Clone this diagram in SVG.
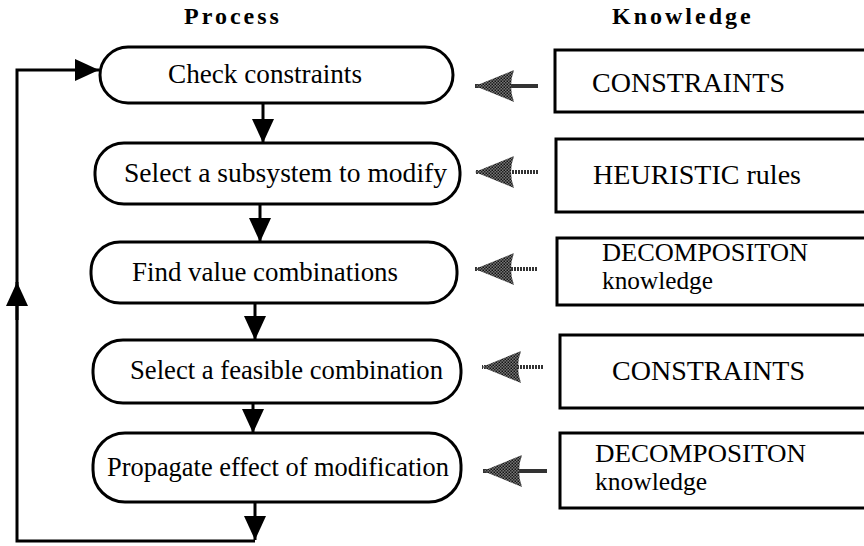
<svg xmlns="http://www.w3.org/2000/svg" width="864" height="546" viewBox="0 0 864 546">
<style>
.t{font-family:"Liberation Serif","Times New Roman",serif;font-size:27px;fill:#000}
.h{font-family:"Liberation Serif","Times New Roman",serif;font-size:24px;font-weight:bold;letter-spacing:3px;fill:#000}
.k{font-family:"Liberation Serif","Times New Roman",serif;font-size:27px;fill:#000}
.k2{font-family:"Liberation Serif","Times New Roman",serif;font-size:25px;fill:#000}
.pb{fill:#fff;stroke:#000;stroke-width:3}
.kb{fill:#fff;stroke:#000;stroke-width:3}
.ln{fill:none;stroke:#000;stroke-width:3}
.gs{fill:none;stroke:#333;stroke-width:4}
</style>
<defs>
<pattern id="stip" width="3" height="3" patternUnits="userSpaceOnUse">
<rect width="3" height="3" fill="#777"/>
<rect width="1.5" height="1.5" fill="#111"/>
<rect x="1.5" y="1.5" width="1.5" height="1.5" fill="#222"/>
</pattern>
<marker id="ah" markerUnits="userSpaceOnUse" markerWidth="24" markerHeight="22" refX="24" refY="11" orient="auto">
<path d="M0,0 L24,11 L0,22 z" fill="#000"/>
</marker>
<marker id="gh" markerUnits="userSpaceOnUse" markerWidth="42" markerHeight="34" refX="42" refY="17" orient="auto">
<path d="M3,1 Q9,17 3,33 L42,17 z" fill="url(#stip)"/>
</marker>
</defs>
<g id="headers">
<text class="h" x="184" y="24">Process</text>
<text class="h" x="612" y="24">Knowledge</text>
</g>
<g id="p1"><rect class="pb" x="100" y="47" width="353" height="56" rx="28"/><text class="t" x="168" y="83" textLength="194" lengthAdjust="spacingAndGlyphs">Check constraints</text></g>
<g id="p2"><rect class="pb" x="95" y="143" width="365" height="61" rx="29"/><text class="t" x="124" y="182" textLength="323" lengthAdjust="spacingAndGlyphs">Select a subsystem to modify</text></g>
<g id="p3"><rect class="pb" x="91" y="242" width="366" height="61" rx="29"/><text class="t" x="132" y="281" textLength="266" lengthAdjust="spacingAndGlyphs">Find value combinations</text></g>
<g id="p4"><rect class="pb" x="93" y="340" width="368" height="63" rx="30"/><text class="t" x="130" y="379" textLength="313" lengthAdjust="spacingAndGlyphs">Select a feasible combination</text></g>
<g id="p5"><rect class="pb" x="93" y="433" width="368" height="69" rx="32"/><text class="t" x="107" y="476" textLength="342" lengthAdjust="spacingAndGlyphs">Propagate effect of modification</text></g>
<g id="k1"><rect class="kb" x="555" y="50" width="320" height="62"/><text class="k" x="592" y="92" textLength="193" lengthAdjust="spacingAndGlyphs">CONSTRAINTS</text></g>
<g id="k2"><rect class="kb" x="556" y="139" width="320" height="73"/><text class="k" x="593" y="184" textLength="208" lengthAdjust="spacingAndGlyphs">HEURISTIC rules</text></g>
<g id="k3"><rect class="kb" x="557" y="238" width="320" height="67"/><text class="k2" x="602" y="261" textLength="206" lengthAdjust="spacingAndGlyphs">DECOMPOSITON</text><text class="k2" x="602" y="289" textLength="111" lengthAdjust="spacingAndGlyphs">knowledge</text></g>
<g id="k4"><rect class="kb" x="560" y="335" width="320" height="73"/><text class="k" x="612" y="380" textLength="193" lengthAdjust="spacingAndGlyphs">CONSTRAINTS</text></g>
<g id="k5"><rect class="kb" x="560" y="433" width="320" height="75"/><text class="k2" x="595" y="462" textLength="211" lengthAdjust="spacingAndGlyphs">DECOMPOSITON</text><text class="k2" x="595" y="490" textLength="112" lengthAdjust="spacingAndGlyphs">knowledge</text></g>
<g id="connectors">
<line class="ln" x1="263" y1="103" x2="263" y2="143" marker-end="url(#ah)"/>
<line class="ln" x1="260" y1="204" x2="260" y2="242" marker-end="url(#ah)"/>
<line class="ln" x1="255" y1="303" x2="255" y2="340" marker-end="url(#ah)"/>
<line class="ln" x1="253" y1="403" x2="253" y2="433" marker-end="url(#ah)"/>
<line class="ln" x1="255" y1="502" x2="255" y2="540" marker-end="url(#ah)"/>
<polyline class="ln" points="255,541 17,541 17,70 99,70" marker-end="url(#ah)"/>
<line class="ln" x1="17" y1="320" x2="17" y2="282" marker-end="url(#ah)"/>
<line class="gs" x1="538" y1="86" x2="475" y2="86" marker-end="url(#gh)"/>
<line class="gs" x1="538" y1="172" x2="475" y2="172" stroke-dasharray="2 1" marker-end="url(#gh)"/>
<line class="gs" x1="537" y1="269" x2="475" y2="269" stroke-dasharray="2 1" marker-end="url(#gh)"/>
<line class="gs" x1="543" y1="367" x2="482" y2="367" stroke-dasharray="2 1" marker-end="url(#gh)"/>
<line class="gs" x1="547" y1="471" x2="483" y2="471" marker-end="url(#gh)"/>
</g>
</svg>
